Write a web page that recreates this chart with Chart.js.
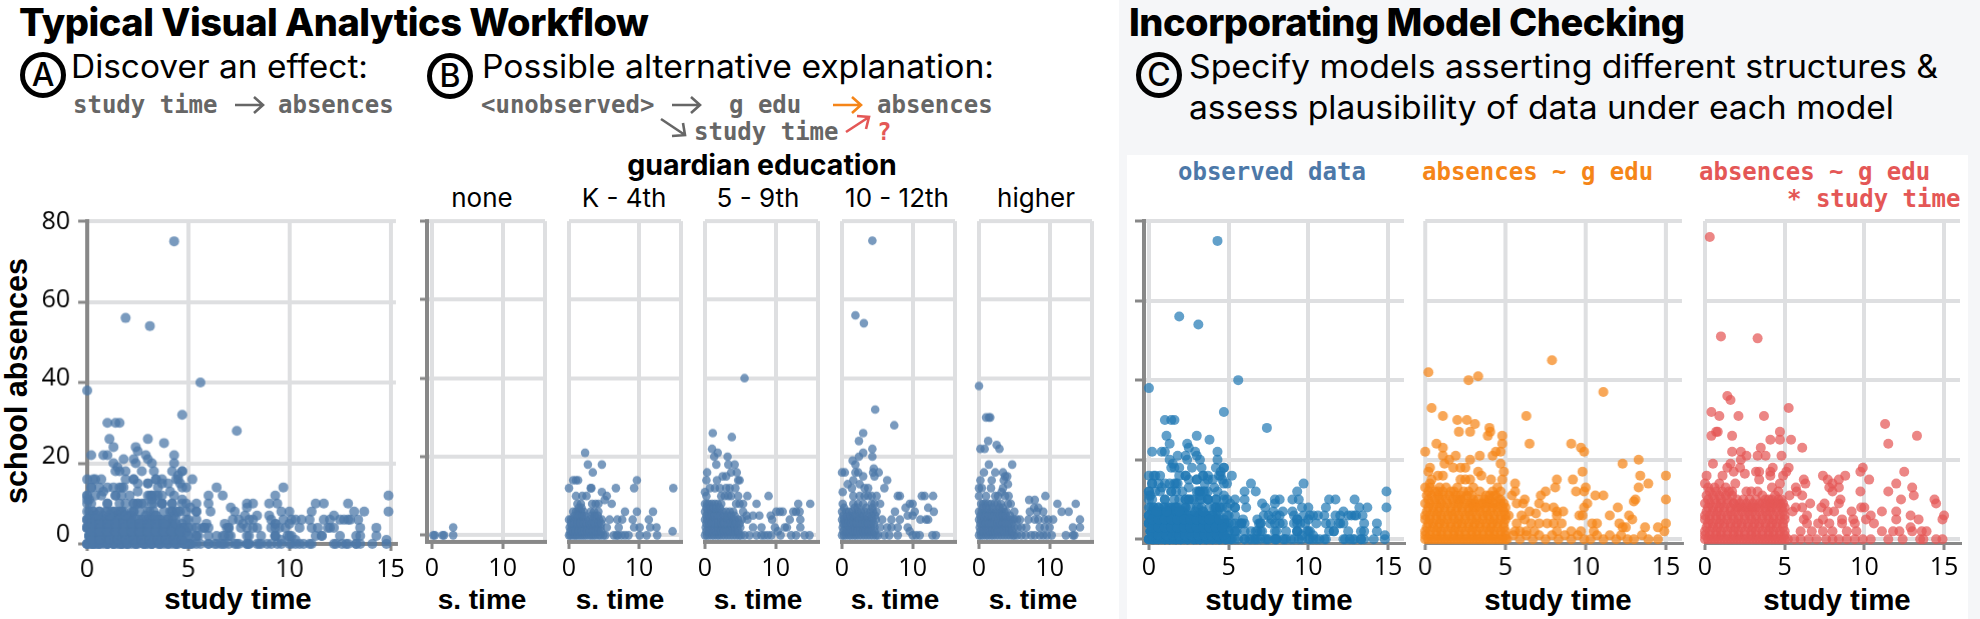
<!DOCTYPE html>
<html>
<head>
<meta charset="utf-8">
<title>Visual analytics workflow</title>
<script src="https://cdn.jsdelivr.net/npm/chart.js@4"></script>
<style>
  html, body { margin: 0; padding: 0; background: #fff; overflow: hidden; }
  #stage { position: relative; width: 1980px; height: 619px; }
  #stage svg { position: absolute; left: 0; top: 0; }
  #stage canvas { position: absolute; }
  .head { font: 800 38px Inter; letter-spacing: -0.5px; fill: #000; }
  .sub { font: 400 32px Inter; fill: #000; }
  .letter { font: 500 32px Inter; fill: #000; text-anchor: middle; }
  .code { font: 700 24px "DejaVu Sans Mono"; fill: #666; }
  .facet { font: 400 26px Inter; fill: #000; text-anchor: middle; }
  .bold { font: 700 28.5px Inter; fill: #000; text-anchor: middle; }
  .axis { font: 700 29.5px "Liberation Sans"; fill: #000; text-anchor: middle; }
  .short { font-size: 28px; }
</style>
</head>
<body>
<div id="stage">
<svg width="1980" height="619" xmlns="http://www.w3.org/2000/svg">
  <rect x="1119" y="0" width="861" height="619" fill="#f5f6f8"/>
  <rect x="1127" y="155" width="841" height="464" fill="#fff"/>

  <text class="head" x="19" y="36">Typical Visual Analytics Workflow</text>
  <text class="head" x="1129" y="36">Incorporating Model Checking</text>

  <g fill="none" stroke="#000" stroke-width="5">
    <circle cx="43" cy="75" r="20.5"/><circle cx="450" cy="76" r="20.5"/><circle cx="1159" cy="75" r="20.5"/>
  </g>
  <text class="letter" x="43" y="86">A</text>
  <text class="letter" x="450" y="87">B</text>
  <text class="letter" x="1159" y="86">C</text>

  <text class="sub" x="71" y="78" textLength="297" lengthAdjust="spacingAndGlyphs">Discover an effect:</text>
  <text class="sub" x="482" y="78" textLength="512" lengthAdjust="spacingAndGlyphs">Possible alternative explanation:</text>
  <text class="sub" x="1189" y="78" textLength="749" lengthAdjust="spacingAndGlyphs">Specify models asserting different structures &amp;</text>
  <text class="sub" x="1189" y="119" textLength="705" lengthAdjust="spacingAndGlyphs">assess plausibility of data under each model</text>

  <text class="code" x="73" y="113">study time</text>
  <text class="code" x="278" y="113">absences</text>
  <text class="code" x="481" y="113">&lt;unobserved&gt;</text>
  <text class="code" x="729" y="113">g edu</text>
  <text class="code" x="877" y="113">absences</text>
  <text class="code" x="694" y="140">study time</text>
  <text class="code" x="877" y="140" style="fill:#e45756">?</text>

  <g fill="none" stroke-width="2.6">
    <path d="M235 105H263M254 97L263 105L254 113" stroke="#666"/>
    <path d="M672 105H700M691 97L700 105L691 113" stroke="#666"/>
    <path d="M833 105H861M852 97L861 105L852 113" stroke="#f58518"/>
    <path d="M661 119L685 135M672 136L685 135L683 123" stroke="#666"/>
    <path d="M846 132L869 117M857 116L869 117L866 129" stroke="#e45756"/>
  </g>

  <text class="bold" x="762" y="175">guardian education</text>
  <text class="facet" x="482" y="207">none</text>
  <text class="facet" x="624" y="207">K - 4th</text>
  <text class="facet" x="758" y="207">5 - 9th</text>
  <text class="facet" x="897" y="207">10 - 12th</text>
  <text class="facet" x="1036" y="207">higher</text>

  <text class="code" x="1178" y="180" style="fill:#4c78a8">observed data</text>
  <text class="code" x="1422" y="180" style="fill:#f58518">absences ~ g edu</text>
  <text class="code" x="1699" y="180" style="fill:#e45756">absences ~ g edu</text>
  <text class="code" x="1787" y="207" style="fill:#e45756">* study time</text>

  <text class="axis" x="238" y="609">study time</text>
  <text class="axis short" x="482" y="609">s. time</text>
  <text class="axis short" x="620" y="609">s. time</text>
  <text class="axis short" x="758" y="609">s. time</text>
  <text class="axis short" x="895" y="609">s. time</text>
  <text class="axis short" x="1033" y="609">s. time</text>
  <text class="axis" x="1279" y="610">study time</text>
  <text class="axis" x="1558" y="610">study time</text>
  <text class="axis" x="1837" y="610">study time</text>
  <text class="axis" style="font-size:30.5px" transform="translate(27 381) rotate(-90)">school absences</text>
</svg>
</div>

<script>
// tick values
const yTicks = [0, 20, 40, 60, 80];
const wideXTicks = [0, 5, 10, 15];
const facetXTicks = [0, 10, 16];

// guardian education facets, [study time, absences]
const noneEdu = [[0.2,0],[0.4,0],[1.5,0],[1.7,0],[3,0],[3,2]];

const k4Edu = [[2.3,21],[2.7,18],[4.7,18],[3.4,16],[0.6,14],[1,14],[1.3,14],[0,12],[3.1,12],[3.2,12],[6.7,12],[9.3,12],[9.7,14],[14.9,12],
  [1,10],[1.9,10],[2.5,10],[4.7,11],[5.4,10],[5.1,9],[6.1,8],[1.2,8],[1.7,8],[3.3,8],[3.8,8],[4.2,8],[8,6],[9.7,6],[12,6],
  [0.6,6],[1,6],[1.3,6],[1.7,6],[2.1,6],[3.1,6],[3.6,6],[4.2,6],[5.8,4],[6.9,4],[7.6,4],[9.1,4],[11.4,4],
  [5.4,2],[7.1,2],[9.3,2],[10.1,2],[11.6,2],[12.5,2],[14.8,1],[6.4,0],[6.8,0],[7,0],[7.5,0],[8,0],[8.5,0],[10.1,0],[11.1,0],[12.6,0],
  [0,4],[0.3,4],[0.6,4],[1,4],[1.3,4],[1.7,4],[2,4],[2.4,4],[3,4],[3.4,4],[3.8,4],[4.3,4],[4.7,4],
  [0.1,2],[0.4,2],[0.7,2],[1,2],[1.3,2],[1.6,2],[2,2],[2.3,2],[2.7,2],[3.1,2],[3.4,2],[3.8,2],[4.1,2],[4.5,2],
  [0,0],[0.2,0],[0.5,0],[0.8,0],[1,0],[1.3,0],[1.6,0],[1.9,0],[2.2,0],[2.5,0],[2.9,0],[3.2,0],[3.5,0],[3.8,0],[4.2,0],[4.5,0],[4.9,0],[5.2,0],
  [0.2,1],[0.6,1],[1,1],[1.4,1],[1.8,1],[2.2,1],[2.6,1],[3,1],[3.4,1],[3.8,1],[4.2,1],[4.6,1],
  [0.3,3],[0.8,3],[1.2,3],[1.6,3],[2.1,3],[2.5,3],[2.9,3],[3.3,3],[3.7,3],[4.2,3],[4.6,3],
  [0.8,5],[1.2,5],[1.5,5],[1.9,5],[2.2,5],[3.2,5],[3.7,5],[4.1,5],[1.4,7],[1.8,7]];

const midEdu = [[5.6,40],[1.1,26],[3.8,25],[1,22],[1.8,21],[1.3,20],[1.6,18],[3.2,20],[3.3,18],[4.2,18],[0.3,16],[3.7,16],[4.5,16],[0.2,14],[1.7,14],[2.5,15],[3,15],[4.7,14],[4.9,14],
  [0,11],[0.7,12],[1.4,12],[2.1,12],[3,12],[3.5,12],[4.3,12],[0.2,10],[2.3,10],[2.8,10],[3.3,10],[3.7,10],[4.7,10],[6,10],[9,10],[7.3,8],
  [0,8],[0.3,8],[0.6,8],[1,8],[1.4,8],[1.8,8],[2.3,8],[4.4,8],[4.9,8],[5.4,8],[13.2,8],[14.9,8],
  [4,6],[5.4,6],[10.1,6],[10.6,6],[11,6],[12.5,6],[12.9,6],[13.4,6],[9.3,5],[7.7,5],[6.8,5],[5.9,5],[12,4],[13.5,4],[9.5,4],[6,4],
  [6.8,2],[8,2],[9.9,2],[11.3,2],[11.6,2],[13.5,2],[5.6,0],[6.3,0],[7.3,0],[8,0],[8.4,0],[8.9,0],[9.4,0],[10.3,1],[10.7,0],[12.2,0],[12.9,0],[14.1,0],[14.8,0],
  [0,6],[0.4,6],[0.8,6],[1.2,6],[1.6,6],[2,6],[2.5,6],[3,6],[3.5,6],
  [0,4],[0.3,4],[0.7,4],[1,4],[1.4,4],[1.8,4],[2.2,4],[2.6,4],[3,4],[3.4,4],[3.8,4],[4.2,4],[4.7,4],[5.2,4],
  [0.1,2],[0.5,2],[0.9,2],[1.3,2],[1.7,2],[2.1,2],[2.5,2],[2.9,2],[3.3,2],[3.7,2],[4.1,2],[4.6,2],[5,2],
  [0,0],[0.3,0],[0.6,0],[1,0],[1.3,0],[1.7,0],[2,0],[2.4,0],[2.8,0],[3.2,0],[3.6,0],[4,0],[4.4,0],[4.8,0],[5.1,0],
  [0.2,1],[0.6,1],[1.1,1],[1.5,1],[1.9,1],[2.3,1],[2.7,1],[3.1,1],[3.5,1],[3.9,1],[4.3,1],[4.7,1],
  [0.2,3],[0.6,3],[1,3],[1.5,3],[1.9,3],[2.3,3],[2.7,3],[3.2,3],[3.6,3],[4,3],[4.4,3],[4.9,3],
  [0.2,5],[0.6,5],[1,5],[1.4,5],[1.8,5],[2.2,5],[2.7,5],[3.2,5],[3.7,5],[4.2,5],[0.2,7],[0.8,7],[1.2,7],[1.6,7],[2.1,7]];

const highEdu = [[4.3,75],[1.9,56],[3.1,54],[4.7,32],[7.4,28],[3,26],[2.4,24],[3,21],[2.4,20],[4.3,22],[4.3,20],[1.5,19],[1.9,18],[4.5,17],
  [0,16],[0.4,16],[1.9,16],[2.3,16],[4.4,16],[5.2,16],[4.6,15],[1.6,14],[3,15],[6.4,14],[6,12],[0.8,13],[2.5,13],[3.2,12],[3.7,12],[0.1,11],[1.4,12],
  [1.6,10],[2.5,10],[3.2,10],[3.7,10],[4.2,10],[4.9,10],[7.9,10],[8.2,10],[11.3,10],[11.7,10],[12.9,10],
  [0.1,8],[1.6,8],[2.3,8],[3,8],[4.2,8],[4.6,8],[5.4,8],[9.6,8],[10,8],[9,7],[12.2,7],[7.5,6],[13,6],[10.3,6],[9.3,5],[10,5],
  [5.7,4],[7,4],[8.2,4],[11.1,4],[11.9,4],[12.2,4],[5.4,2],[6.4,2],[7,2],[7.9,2],[9.3,2],[9.6,1],
  [5.1,0],[6,0],[6.7,0],[7.9,0],[10,0],[10.5,0],[11,0],[12.8,0],[13.3,0],
  [0,6],[0.6,6],[1,6],[1.4,6],[2.2,6],[2.7,6],[3.2,6],[4,6],[4.4,6],[4.9,6],
  [0,4],[0.3,4],[0.7,4],[1.1,4],[1.5,4],[1.9,4],[2.3,4],[2.7,4],[3.1,4],[3.5,4],[3.9,4],[4.3,4],[4.8,4],
  [0.1,2],[0.5,2],[0.9,2],[1.3,2],[1.7,2],[2.1,2],[2.5,2],[2.9,2],[3.3,2],[3.7,2],[4.1,2],[4.6,2],
  [0,0],[0.3,0],[0.6,0],[1,0],[1.3,0],[1.7,0],[2,0],[2.4,0],[2.8,0],[3.2,0],[3.6,0],[4,0],[4.4,0],[4.8,0],
  [0.2,1],[0.7,1],[1.1,1],[1.5,1],[1.9,1],[2.2,1],[2.6,1],[3,1],[3.4,1],[3.8,1],[4.2,1],[4.6,1],
  [0.2,3],[0.5,3],[0.9,3],[1.3,3],[1.7,3],[2.1,3],[2.5,3],[2.9,3],[3.3,3],[3.7,3],[4.1,3],[4.5,3],
  [0.2,5],[0.8,5],[1.2,5],[1.7,5],[2,5],[2.5,5],[3,5],[3.6,5],[4.2,5],[4.7,5],[0.3,7],[1.8,7],[2.2,7],[3.4,7],[4.3,7]];

const higherEdu = [[0,38],[1,30],[1.4,30],[1.6,30],[1.3,24],[2.5,23],[2.9,22],[0.2,22],[0.8,22],[4.7,18],[1.4,18],[0.7,16],[2.3,16],[3.4,16],[4,15],[3.7,15],
  [0.2,14],[1.8,14],[4.1,13],[3.5,14],[0,12],[0.4,12],[1.7,12],[3.4,12],[3.2,11],[0,10],[1,10],[2.3,10],[2.7,10],[3.7,10],[4.2,10],[7.1,9],[7.9,9],[9.4,10],[7.8,7],[8.4,7],
  [0.3,8],[0.6,8],[0.9,8],[1.3,8],[1.7,8],[2.2,8],[2.6,8],[3.1,8],[4.1,8],[4.5,8],[11.1,8],[13.7,8],
  [0,6],[0.4,6],[0.8,6],[1.2,6],[1.6,6],[2,6],[2.4,6],[2.8,6],[3.2,6],[3.6,6],[3.9,6],[5,6],[7.2,6],[8.2,6],[9.1,6],[11.7,6],[12.7,6],[14.3,4],
  [5,4],[5.4,4],[5.8,4],[7,4],[7.9,4],[8.4,4],[9.3,4],[9.8,4],[10.5,4],[14.3,2],[13.3,2],[5,2],[5.5,2],[6,2],[6.7,2],[8.6,2],[9.3,2],[10,2],
  [5,0],[5.4,0],[6,0],[6.6,0],[7.4,0],[7.9,0],[8.6,0],[9.1,0],[9.6,0],[10.3,0],[12.3,0],[13.3,0],[13.5,0],
  [0,4],[0.3,4],[0.7,4],[1.1,4],[1.5,4],[1.9,4],[2.3,4],[2.7,4],[3.1,4],[3.5,4],[3.9,4],[4.3,4],[4.7,4],
  [0.1,2],[0.5,2],[0.9,2],[1.3,2],[1.7,2],[2.1,2],[2.5,2],[2.9,2],[3.3,2],[3.7,2],[4.1,2],[4.5,2],
  [0,0],[0.3,0],[0.6,0],[1,0],[1.3,0],[1.7,0],[2,0],[2.4,0],[2.8,0],[3.2,0],[3.6,0],[4,0],[4.4,0],[4.8,0],
  [0.2,1],[0.6,1],[1.1,1],[1.5,1],[1.9,1],[2.3,1],[2.7,1],[3.1,1],[3.5,1],[3.9,1],[4.3,1],[4.7,1],
  [0.2,3],[0.6,3],[1,3],[1.4,3],[1.8,3],[2.2,3],[2.6,3],[3,3],[3.4,3],[3.8,3],[4.2,3],[4.6,3],
  [0.2,5],[0.6,5],[1,5],[1.4,5],[1.8,5],[2.2,5],[2.6,5],[3,5],[3.4,5],[3.8,5],[4.4,5],[0.5,7],[1.1,7],[1.9,7],[2.9,7],[3.4,7]];

const observed = [...noneEdu, ...k4Edu, ...midEdu, ...highEdu, ...higherEdu];

// model draws: absences ~ g edu
const eduModel = [[7.9,45],[0.2,42],[2.7,40],[3.3,41],[11.1,37],[0.4,33],[6.3,31],[1.1,31],[2,30],[2.6,30],[3.1,29],[4,28],[4.05,27],[2.1,27],[2.8,27],[3.9,26],[4.8,26],[4.8,24],[6.5,24],[9.1,24],[9.7,23],[9.9,22],
  [0.7,24],[1.1,23],[0,22],[1.1,21],[4.7,22],[4.4,22],[4.2,21],[3.4,21],[2.8,20],[1.9,21],[1.5,20],[1.2,19],[13.3,20],[12.3,19],[4.7,19],[1.75,18],[2.2,18],[2.5,18],[0.3,18],[0.2,17],[4.9,17],[9.8,17],[3.3,17],[3.5,16],[0.8,16],[1.1,16],[13.4,16],[15,16],
  [8.2,15],[9.2,15],[2.2,15],[2.5,15],[2.8,15],[4.1,15],[4.8,15],[0.3,14],[0.4,15],[5.6,14],[13.9,14],[10,13],[8.1,13],[13.3,13],[7.5,12],[9.4,12],[9.9,12],[5.6,12],[7.2,11],[10.6,11],[11.1,11],[15,10],[5.4,11],[6.2,10],[13.1,10],[13,9.5],
  [7.1,9],[5.7,9],[10.1,9],[9.9,8],[7.5,8],[12,8],[8,8],[6.1,9],[6.5,7],[8.2,7],[8.6,7],[11.5,6],[12.7,6],[9.6,6],[9.8,6],[6.9,6.5],[6,6],[6.2,5],[8.2,6],[12.9,5],[12.1,4],[10.4,4],[10.7,4],[15,4],[12.5,3],[12.3,3],[13.7,3],[14.5,3],[14.9,2],
  [5.7,4],[6.6,4],[7.1,4],[7.6,4],[8,4],[8.5,4],[5.6,2],[5.9,2],[6.3,2],[6.8,2],[8.2,2],[9.1,2],[9.7,2],[10.5,2],
  [5.1,0],[5.5,1],[5.9,0],[6.3,1],[6.7,0],[7.1,1],[7.5,0],[7.9,1],[8.3,0],[8.7,1],[9.1,0],[9.5,1],[9.9,0],[10.3,0],[10.7,1],[11.1,0],[11.5,1],[11.9,0],[12.2,1],[12.6,0],[13,0],[13.5,1],[13.9,0],[14.5,0],
  [0,13],[0.3,13],[0.6,12],[0.9,13],[1.3,13],[1.6,12],[2,13],[2.4,12],[2.7,12],[3,13],[3.4,12],[3.8,11],[4.2,12],[4.5,13],
  [0.1,11],[0.4,11],[0.8,11],[1.1,11],[1.5,11],[1.9,11],[2.2,10],[2.6,11],[3,10],[3.3,10],[3.7,10],[4,10],[4.4,11],[4.7,10],
  [0,9],[0.3,9],[0.7,9],[1,9],[1.4,9],[1.8,9],[2.1,9],[2.5,9],[2.9,9],[3.2,8],[3.6,9],[4,9],[4.3,9],[4.7,9],[5,8],
  [0.1,7],[0.5,7],[0.8,7],[1.2,7],[1.6,7],[1.9,7],[2.3,7],[2.7,7],[3,7],[3.4,7],[3.8,7],[4.1,7],[4.5,7],[4.9,7],[5.2,6],
  [0,5],[0.3,5],[0.7,5],[1,5],[1.4,5],[1.8,5],[2.1,5],[2.5,5],[2.9,5],[3.2,5],[3.6,5],[4,5],[4.3,5],[4.7,5],[5,5],
  [0.1,3],[0.5,3],[0.8,3],[1.2,3],[1.6,3],[1.9,3],[2.3,3],[2.7,3],[3,3],[3.4,3],[3.8,3],[4.1,3],[4.5,3],[4.9,3],
  [0,1],[0.3,1],[0.7,1],[1,1],[1.4,1],[1.8,1],[2.1,1],[2.5,1],[2.9,1],[3.2,1],[3.6,1],[4,1],[4.3,1],[4.7,1],[5,1],
  [0,0],[0.4,0],[0.8,0],[1.2,0],[1.6,0],[2,0],[2.4,0],[2.8,0],[3.2,0],[3.6,0],[4,0],[4.4,0],[4.8,0]];
const eduModelFill = [[0.2,12],[0.8,12],[1.1,12],[1.8,12],[2.2,11],[2.9,11],[4,11],[4.3,11],[4.7,12],
  [0.2,10],[0.6,10],[0.9,10],[1.3,10],[1.7,10],[2,10],[2.4,10],[2.8,9],[3.1,9],[3.5,9],[3.8,9],[4.2,9],[4.6,10],[4.9,9],
  [0.2,8],[0.5,8],[0.9,8],[1.2,8],[1.6,8],[2,8],[2.3,8],[2.7,8],[3,8],[3.4,8],[3.8,8],[4.2,8],[4.5,8],[4.8,8],
  [0,6],[0.3,6],[0.7,6],[1,6],[1.4,6],[1.7,6],[2.1,6],[2.5,6],[2.8,6],[3.2,6],[3.6,6],[3.9,6],[4.3,6],[4.7,6],[5,6],
  [0.2,4],[0.5,4],[0.9,4],[1.2,4],[1.6,4],[2,4],[2.3,4],[2.7,4],[3.1,4],[3.4,4],[3.8,4],[4.2,4],[4.5,4],[4.9,4],
  [0,2],[0.3,2],[0.7,2],[1,2],[1.4,2],[1.8,2],[2.1,2],[2.5,2],[2.9,2],[3.2,2],[3.6,2],[4,2],[4.3,2],[4.7,2],[5,2],
  [0.2,0],[0.6,0],[1,0],[1.4,0],[1.8,0],[2.2,0],[2.6,0],[3,0],[3.4,0],[3.8,0],[4.2,0],[4.6,0],[5,0]];

// model draws: absences ~ g edu * study time
const interactionModel = [[0.3,76],[1,51],[3.3,50.5],[1.4,36],[1.6,35],[5.25,33],[0.4,32],[0.9,31],[2.1,31],[3.7,31],[11.3,29],[0.8,27],[0.7,27],[0.4,26],[1.7,26],[13.3,26],[4.7,27],[4.1,25],[4.7,25],[5.4,25],[11.5,24],[6.1,23],[3.5,23],
  [1.7,22],[2.25,22],[2.6,21],[3.3,21],[3.8,21],[4.8,21],[2.25,20],[0.5,19],[1.6,19],[1.4,18],[2.2,18],[4.25,18],[5.25,18],[9.9,18],[9.75,17],[12.5,17],[3.2,17],[3.4,17],[4.1,17],[5.1,17],[1.8,17],[2.5,16.5],[0.1,16],[1.1,16],[7.4,16],[8.8,16],
  [8.4,15],[7.7,15],[10.3,15],[6.2,15],[3.4,15],[4.1,16],[4.9,16],[6.3,14],[8,14],[12,14],[1.9,14],[0,14],[4.7,14],[8.4,13],[13,13],[5.7,13],[7.8,13],[11.5,12],[9.75,12],[5.75,12],[8,12],[13.1,11],[5.3,11],[6.1,11],[2.6,12],[3.3,12],
  [14.4,10],[12.3,10],[8.5,10],[14.5,9],[7.5,9],[6.6,9],[8.4,9],[7.3,8],[5.7,8],[6.1,8],[9.8,8],[10,8],[9.2,7],[11.1,7],[12,7],[8.1,7],[5.5,7],[7.7,7],[15,6],[12.9,6],[10.4,6],[6.4,6],[12,5],[13.4,5],[14.9,5],[10.1,5],[6.2,5],[7.4,5],[8.6,5],[9.3,5],
  [10.6,4],[6.4,4],[7.1,4],[7.8,4],[8.6,4],[9.4,4],[12.9,3],[6,2],[6.7,2],[7.4,2],[8,2],[8.9,2],[9.5,2],[11.1,2],[11.8,2],[12.2,2],[13,2],[13.6,2],[13.9,2],
  [5.2,0],[5.6,0],[6,0],[6.5,0],[7,0],[7.6,0],[8,0],[8.4,0],[8.9,0],[9.4,0],[9.9,0],[10.4,0],[11.5,0],[12.4,0],[13.5,0],[13.7,0],[14.5,0],[14.9,0],
  [0.2,13],[0.6,13],[0.9,14],[1.3,13],[1.7,12],[2.9,12],[4.2,13],[4.6,12],
  [0.1,11],[0.5,11],[0.9,11],[1.3,11],[1.7,11],[2,10],[2.4,10],[2.8,10],[3.2,10],[3.6,11],[4,10],[4.4,11],[4.8,10],
  [0,9],[0.3,9],[0.7,9],[1,9],[1.4,9],[1.8,9],[2.1,8],[2.5,8],[2.9,8],[3.2,8],[3.6,9],[4,8],[4.3,9],[4.7,9],[5,8],
  [0.1,7],[0.5,7],[0.8,7],[1.2,7],[1.6,7],[1.9,7],[2.3,7],[2.7,7],[3,7],[3.4,7],[3.8,7],[4.1,7],[4.5,7],[4.9,7],
  [0,5],[0.3,5],[0.7,5],[1,5],[1.4,5],[1.8,5],[2.1,5],[2.5,5],[2.9,5],[3.2,5],[3.6,5],[4,5],[4.3,5],[4.7,5],[5,5],
  [0.1,3],[0.5,3],[0.8,3],[1.2,3],[1.6,3],[1.9,3],[2.3,3],[2.7,3],[3,3],[3.4,3],[3.8,3],[4.1,3],[4.5,3],[4.9,3],
  [0,1],[0.3,1],[0.7,1],[1,1],[1.4,1],[1.8,1],[2.1,1],[2.5,1],[2.9,1],[3.2,1],[3.6,1],[4,1],[4.3,1],[4.7,1],[5,1],
  [0,0],[0.4,0],[0.8,0],[1.2,0],[1.6,0],[2,0],[2.4,0],[2.8,0],[3.2,0],[3.6,0],[4,0],[4.4,0],[4.8,0]];
const interactionFill = [[0.3,12],[0.7,12],[1.1,12],[1.5,12],[3.8,10],[4.2,10],[4.6,10],
  [0.2,10],[0.6,10],[1,10],[1.4,10],[1.8,9],[2.2,9],[2.6,9],[3,9],[3.4,9],[3.8,9],[4.1,9],[4.5,9],[4.9,9],
  [0.2,8],[0.5,8],[0.9,8],[1.2,8],[1.6,8],[2,8],[2.3,8],[2.7,8],[3,8],[3.4,8],[3.8,8],[4.2,8],[4.5,8],[4.8,8],
  [0,6],[0.3,6],[0.7,6],[1,6],[1.4,6],[1.7,6],[2.1,6],[2.5,6],[2.8,6],[3.2,6],[3.6,6],[3.9,6],[4.3,6],[4.7,6],[5,6],
  [0.2,4],[0.5,4],[0.9,4],[1.2,4],[1.6,4],[2,4],[2.3,4],[2.7,4],[3.1,4],[3.4,4],[3.8,4],[4.2,4],[4.5,4],[4.9,4],
  [0,2],[0.3,2],[0.7,2],[1,2],[1.4,2],[1.8,2],[2.1,2],[2.5,2],[2.9,2],[3.2,2],[3.6,2],[4,2],[4.3,2],[4.7,2],[5,2],
  [0.2,0],[0.6,0],[1,0],[1.4,0],[1.8,0],[2.2,0],[2.6,0],[3,0],[3.4,0],[3.8,0],[4.2,0],[4.6,0],[5,0]];

const GRID = '#dedfe1';
const AXIS = '#888888';
const stage = document.getElementById('stage');

// p: pixel box of the plot area plus the axis domains
function scatterPanel(p) {
  const canvas = document.createElement('canvas');
  const margin = { left: 80, right: 30, top: 30, bottom: 46 };
  const w = p.right - p.left + margin.left + margin.right;
  const h = p.bottom - p.top + margin.top + margin.bottom;
  canvas.width = w;
  canvas.height = h;
  canvas.style.left = (p.left - margin.left) + 'px';
  canvas.style.top = (p.top - margin.top) + 'px';
  canvas.style.width = w + 'px';
  canvas.style.height = h + 'px';
  stage.appendChild(canvas);

  const tickLen = p.yAxis ? p.yAxis : 0;
  const scales = {
    x: {
      type: 'linear', min: p.xMin, max: p.xMax,
      afterBuildTicks: s => { s.ticks = p.xTicks.map(v => ({ value: v })); },
      afterFit: s => { s.height = margin.bottom; },
      grid: {
        color: GRID, lineWidth: 4, tickLength: 7, tickWidth: 3,
        tickColor: c => (p.xTicks[c.index] === 16 ? 'rgba(0,0,0,0)' : AXIS)
      },
      border: { display: true, color: AXIS, width: p.xAxisWidth || 4 },
      ticks: {
        color: '#000', padding: p.labelPad, maxRotation: 0, autoSkip: false,
        font: { family: 'Open Sans', size: 25 },
        callback: v => (v === 16 ? '' : String(v))
      }
    },
    y: {
      type: 'linear', min: p.yMin, max: 80,
      afterBuildTicks: s => { s.ticks = yTicks.map(v => ({ value: v })); },
      afterFit: s => { s.width = p.yAxis ? tickLen + 1 : 0; },
      grid: { color: GRID, lineWidth: 4, drawTicks: !!p.yAxis, tickLength: tickLen, tickWidth: 3, tickColor: AXIS },
      border: { display: !!p.yAxis, color: AXIS, width: 4 },
      ticks: { display: false }
    }
  };
  if (p.yLabels) {
    // the printed labels sit on a slightly tighter scale than the gridlines
    scales.yLabels = {
      type: 'linear', axis: 'y', position: 'left', weight: 1, min: -2.22, max: 80.18,
      afterBuildTicks: s => { s.ticks = yTicks.map(v => ({ value: v })); },
      afterFit: s => { s.width = margin.left - tickLen - 1; },
      grid: { display: false, drawTicks: false },
      border: { display: false },
      ticks: { color: '#000', padding: 7, font: { family: 'Open Sans', size: 25 } }
    };
  }

  return new Chart(canvas, {
    type: 'scatter',
    data: {
      datasets: [{
        data: p.points.map(d => ({ x: d[0], y: d[1] })),
        backgroundColor: p.color,
        borderWidth: 0,
        pointRadius: p.radius,
        clip: false
      }]
    },
    options: {
      responsive: false,
      animation: false,
      devicePixelRatio: 1,
      layout: {
        padding: {
          left: p.yLabels ? 0 : margin.left - (p.yAxis ? tickLen + 1 : 0),
          right: margin.right, top: margin.top, bottom: 0
        }
      },
      plugins: { legend: { display: false }, tooltip: { enabled: false } },
      scales: scales
    }
  });
}

const BLUE = 'rgba(76,120,168,0.75)';

scatterPanel({ left: 87.3, right: 395.7, top: 221.3, bottom: 543.7, xMin: 0, xMax: 15.27, yMin: 0, xTicks: wideXTicks,
  points: observed, color: BLUE, radius: 5, yAxis: 9, yLabels: true, labelPad: 4 });

scatterPanel({ left: 427, right: 545, top: 221, bottom: 541.7, xMin: -0.71, xMax: 16, yMin: -1.7, xTicks: facetXTicks,
  points: noneEdu, color: BLUE, radius: 4.3, yAxis: 7, labelPad: 5 });
scatterPanel({ left: 568.5, right: 681, top: 221, bottom: 541.7, xMin: 0, xMax: 16, yMin: -1.7, xTicks: facetXTicks,
  points: k4Edu, color: BLUE, radius: 4.3, labelPad: 5 });
scatterPanel({ left: 705, right: 818, top: 221, bottom: 541.7, xMin: 0, xMax: 16, yMin: -1.7, xTicks: facetXTicks,
  points: midEdu, color: BLUE, radius: 4.3, labelPad: 5 });
scatterPanel({ left: 842, right: 955, top: 221, bottom: 541.7, xMin: 0, xMax: 16, yMin: -1.7, xTicks: facetXTicks,
  points: highEdu, color: BLUE, radius: 4.3, labelPad: 5 });
scatterPanel({ left: 979, right: 1092, top: 221, bottom: 541.7, xMin: 0, xMax: 16, yMin: -1.7, xTicks: facetXTicks,
  points: higherEdu, color: BLUE, radius: 4.3, labelPad: 5 });

scatterPanel({ left: 1144, right: 1404, top: 220.7, bottom: 543, xMin: -0.31, xMax: 16, yMin: -0.93, xTicks: wideXTicks,
  points: observed, color: 'rgba(31,119,180,0.7)', radius: 5, yAxis: 9, xAxisWidth: 3, labelPad: 3 });
scatterPanel({ left: 1425.3, right: 1682, top: 220.7, bottom: 543, xMin: 0, xMax: 16, yMin: -0.93, xTicks: wideXTicks,
  points: [...eduModel, ...eduModelFill], color: 'rgba(245,133,24,0.72)', radius: 5, xAxisWidth: 3, labelPad: 3 });
scatterPanel({ left: 1704.7, right: 1960, top: 220.7, bottom: 543, xMin: 0, xMax: 16, yMin: -0.93, xTicks: wideXTicks,
  points: [...interactionModel, ...interactionFill], color: 'rgba(228,87,86,0.72)', radius: 5, xAxisWidth: 3, labelPad: 3 });
</script>
</body>
</html>
